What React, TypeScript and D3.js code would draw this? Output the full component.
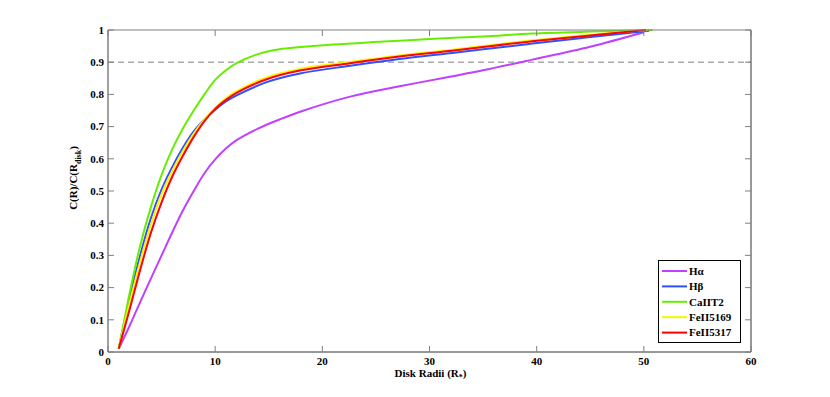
import { useEffect, useRef } from "react";
import * as d3 from "d3";

// Radii (R*) and normalised cumulative flux C(R)/C(Rdisk)
const haX = [1, 2, 3, 4, 5, 6, 7, 8, 9, 10, 11, 12, 14, 16, 18, 22.6, 27.2, 31.9, 35, 39.6, 45, 50];
const haY = [0.01, 0.08, 0.155, 0.228, 0.3, 0.372, 0.44, 0.5, 0.555, 0.598, 0.632, 0.658, 0.694, 0.722, 0.747, 0.793, 0.825, 0.855, 0.875, 0.908, 0.948, 0.993];

const hbX = [1, 2, 3, 4, 5, 6, 7, 8, 9, 10, 11, 12, 14.8, 17.9, 22.6, 27.2, 31.9, 35, 39.6, 45, 50.5];
const hbY = [0.01, 0.165, 0.3, 0.415, 0.505, 0.575, 0.635, 0.685, 0.722, 0.752, 0.778, 0.797, 0.838, 0.865, 0.889, 0.91, 0.928, 0.94, 0.958, 0.978, 0.998];

const caX = [1, 1.5, 2, 3, 4, 5, 6, 7, 8, 9, 10, 11, 12, 14, 16, 18, 21, 25.7, 30, 35, 39.6, 45, 50.8];
const caY = [0.01, 0.095, 0.18, 0.33, 0.45, 0.55, 0.63, 0.695, 0.75, 0.8, 0.845, 0.875, 0.897, 0.925, 0.94, 0.947, 0.955, 0.964, 0.972, 0.98, 0.989, 0.995, 1.0];

const fe1X = [1, 2, 3, 4, 5, 6, 7, 8, 9, 10, 11, 12, 14.8, 17.9, 22.6, 27.2, 31.9, 35, 39.6, 45, 50.3];
const fe1Y = [0.01, 0.15, 0.28, 0.395, 0.49, 0.562, 0.625, 0.678, 0.722, 0.758, 0.788, 0.81, 0.853, 0.879, 0.901, 0.921, 0.938, 0.95, 0.968, 0.985, 1.0];

const fe2X = [1, 2, 3, 4, 5, 6, 7, 8, 9, 10, 11, 12, 14.8, 17.9, 22.6, 27.2, 31.9, 35, 39.6, 45, 50.2];
const fe2Y = [0.01, 0.13, 0.255, 0.37, 0.465, 0.545, 0.61, 0.668, 0.717, 0.755, 0.783, 0.805, 0.847, 0.874, 0.897, 0.918, 0.935, 0.947, 0.965, 0.983, 1.0];

const seriesNames = ["H\u03b1", "H\u03b2", "CaIIT2", "FeII5169", "FeII5317"];
const seriesColors = ["#bf40ff", "#3050ff", "#66ee00", "#f5f500", "#ff0000"];

const xTicks = [0, 10, 20, 30, 40, 50, 60];
const yTicks = [0, 0.1, 0.2, 0.3, 0.4, 0.5, 0.6, 0.7, 0.8, 0.9, 1];
const threshold = 0.9;

export default function App() {
  const svgRef = useRef<SVGSVGElement | null>(null);

  useEffect(() => {
    const width = 830;
    const height = 397;
    const margin = { top: 30, right: 79, bottom: 45, left: 108 };
    const w = width - margin.left - margin.right;
    const h = height - margin.top - margin.bottom;
    const font = "'Liberation Serif', 'Times New Roman', serif";
    const fs = 11;

    const svg = d3.select(svgRef.current);
    svg.attr("width", width).attr("height", height).selectAll("*").remove();

    const x = d3.scaleLinear().domain([0, 60]).range([0, w]);
    const y = d3.scaleLinear().domain([0, 1]).range([h, 0]);

    const g = svg.append("g").attr("transform", `translate(${margin.left},${margin.top})`);

    // dashed 0.9 reference line
    g.append("line")
      .attr("x1", 0)
      .attr("x2", w)
      .attr("y1", y(threshold))
      .attr("y2", y(threshold))
      .attr("stroke", "#aaaaaa")
      .attr("stroke-width", 1.5)
      .attr("stroke-dasharray", "6,4");

    // curves
    const data = [
      haX.map((v, i) => [v, haY[i]]),
      hbX.map((v, i) => [v, hbY[i]]),
      caX.map((v, i) => [v, caY[i]]),
      fe1X.map((v, i) => [v, fe1Y[i]]),
      fe2X.map((v, i) => [v, fe2Y[i]]),
    ] as [number, number][][];

    const line = d3
      .line<[number, number]>()
      .x((d) => x(d[0]))
      .y((d) => y(d[1]))
      .curve(d3.curveCatmullRom.alpha(0.5));

    g.selectAll(".curve")
      .data(data)
      .enter()
      .append("path")
      .attr("class", "curve")
      .attr("d", (d) => line(d))
      .attr("fill", "none")
      .attr("stroke", (_, i) => seriesColors[i])
      .attr("stroke-width", 2);

    // box
    g.append("line").attr("x1", 0).attr("x2", w).attr("y1", 0).attr("y2", 0).attr("stroke", "#808080");
    g.append("line").attr("x1", 0).attr("x2", 0).attr("y1", 0).attr("y2", h).attr("stroke", "#808080").attr("stroke-width", 1.5);
    g.append("line").attr("x1", 0).attr("x2", w).attr("y1", h).attr("y2", h).attr("stroke", "#333");
    g.append("line").attr("x1", w).attr("x2", w).attr("y1", 0).attr("y2", h).attr("stroke", "#333");

    // inward ticks on all four sides
    const tl = 6;
    xTicks.forEach((t) => {
      g.append("line").attr("x1", x(t)).attr("x2", x(t)).attr("y1", h).attr("y2", h - tl).attr("stroke", "#808080");
      g.append("line").attr("x1", x(t)).attr("x2", x(t)).attr("y1", 0).attr("y2", tl).attr("stroke", "#808080");
      g.append("text")
        .attr("x", x(t))
        .attr("y", h + 13)
        .attr("text-anchor", "middle")
        .attr("font-family", font)
        .attr("font-weight", "bold")
        .attr("font-size", fs)
        .text(t);
    });
    yTicks.forEach((t) => {
      g.append("line").attr("x1", 0).attr("x2", tl).attr("y1", y(t)).attr("y2", y(t)).attr("stroke", "#808080");
      g.append("line").attr("x1", w).attr("x2", w - tl).attr("y1", y(t)).attr("y2", y(t)).attr("stroke", "#808080");
      g.append("text")
        .attr("x", -4)
        .attr("y", y(t))
        .attr("dy", "0.35em")
        .attr("text-anchor", "end")
        .attr("font-family", font)
        .attr("font-weight", "bold")
        .attr("font-size", fs)
        .text(t);
    });

    // axis labels
    const xl = g.append("text")
      .attr("x", w / 2 + 1)
      .attr("y", h + 25)
      .attr("text-anchor", "middle")
      .attr("font-family", font)
      .attr("font-weight", "bold")
      .attr("font-size", fs);
    xl.append("tspan").text("Disk Radii (R");
    xl.append("tspan").attr("dy", 3).attr("font-size", 8).text("*");
    xl.append("tspan").attr("dy", -3).text(")");

    const yl = g.append("text")
      .attr("transform", `translate(${-31},${148}) rotate(-90)`)
      .attr("text-anchor", "middle")
      .attr("font-family", font)
      .attr("font-weight", "bold")
      .attr("font-size", fs);
    yl.append("tspan").text("C(R)/C(R");
    yl.append("tspan").attr("dy", 4).attr("font-size", 8).text("disk");
    yl.append("tspan").attr("dy", -4).text(")");

    // legend
    const lg = svg.append("g").attr("transform", "translate(658,260)");
    lg.append("rect")
      .attr("x", 0.5)
      .attr("y", 0.5)
      .attr("width", 82)
      .attr("height", 82)
      .attr("fill", "white")
      .attr("stroke", "#000");
    seriesNames.forEach((name, i) => {
      const yy = 11 + i * 15.4;
      lg.append("line")
        .attr("x1", 4)
        .attr("x2", 29)
        .attr("y1", yy)
        .attr("y2", yy)
        .attr("stroke", seriesColors[i])
        .attr("stroke-width", 2);
      lg.append("text")
        .attr("x", 31)
        .attr("y", yy)
        .attr("dy", "0.35em")
        .attr("font-family", font)
        .attr("font-weight", "bold")
        .attr("font-size", fs)
        .text(name);
    });
  }, []);

  return <svg ref={svgRef} style={{ position: "absolute", left: 0, top: 0 }}></svg>;
}
